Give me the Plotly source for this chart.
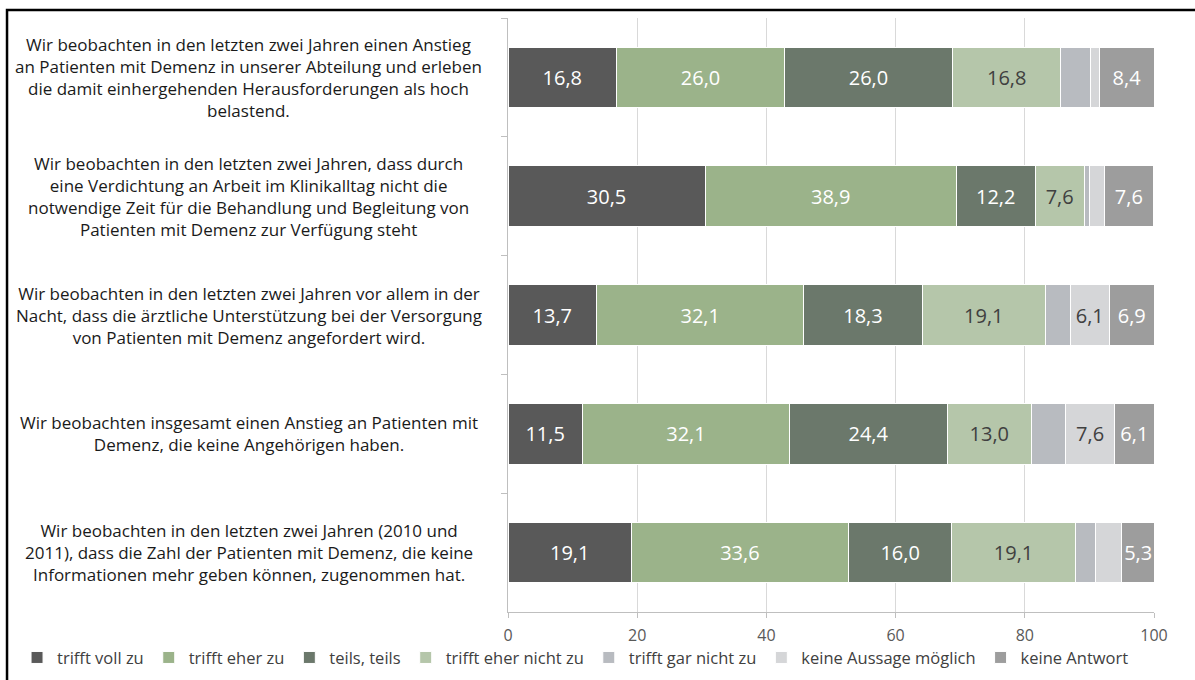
import plotly.graph_objects as go

# Aussagen (categories), top to bottom
statements = [
    "Wir beobachten in den letzten zwei Jahren einen Anstieg<br>an Patienten mit Demenz in unserer Abteilung und erleben<br>die damit einhergehenden Herausforderungen als hoch<br>belastend.",
    "Wir beobachten in den letzten zwei Jahren, dass durch<br>eine Verdichtung an Arbeit im Klinikalltag nicht die<br>notwendige Zeit für die Behandlung und Begleitung von<br>Patienten mit Demenz zur Verfügung steht",
    "Wir beobachten in den letzten zwei Jahren vor allem in der<br>Nacht, dass die ärztliche Unterstützung bei der Versorgung<br>von Patienten mit Demenz angefordert wird.",
    "Wir beobachten insgesamt einen Anstieg an Patienten mit<br>Demenz, die keine Angehörigen haben.",
    "Wir beobachten in den letzten zwei Jahren (2010 und<br>2011), dass die Zahl der Patienten mit Demenz, die keine<br>Informationen mehr geben können, zugenommen hat.",
]
cat_ids = ["A1", "A2", "A3", "A4", "A5"]

voll_zu = [16.8, 30.5, 13.7, 11.5, 19.1]
eher_zu = [26.0, 38.9, 32.1, 32.1, 33.6]
teils = [26.0, 12.2, 18.3, 24.4, 16.0]
eher_nicht = [16.8, 7.6, 19.1, 13.0, 19.1]
gar_nicht = [4.6, 0.8, 3.8, 5.3, 3.1]
keine_aussage = [1.4, 2.3, 6.1, 7.6, 4.0]
keine_antwort = [8.4, 7.6, 6.9, 6.1, 5.3]

series = [
    ("trifft voll zu", voll_zu, "#595959", "white", [True] * 5),
    ("trifft eher zu", eher_zu, "#9BB38A", "white", [True] * 5),
    ("teils, teils", teils, "#6B786B", "white", [True] * 5),
    ("trifft eher nicht zu", eher_nicht, "#B5C6AA", "#404040", [True] * 5),
    ("trifft gar nicht zu", gar_nicht, "#B8BBC0", "#404040", [False] * 5),
    ("keine Aussage möglich", keine_aussage, "#D5D6D8", "#404040", [False, False, True, True, False]),
    ("keine Antwort", keine_antwort, "#9D9D9D", "white", [True] * 5),
]

fig = go.Figure()
for name, vals, color, tcolor, show in series:
    labels = [f"{v:.1f}".replace(".", ",") if s else "" for v, s in zip(vals, show)]
    fig.add_trace(go.Bar(
        y=cat_ids, x=vals, name=name, orientation="h",
        marker=dict(color=color, line=dict(color="white", width=1)),
        text=labels, textposition="inside", insidetextanchor="middle",
        textangle=0, constraintext="none",
        textfont=dict(color=tcolor, size=20, family="Open Sans"),
        hoverinfo="x+name",
    ))

# category labels, centred text to the left of the plot
for cid, txt in zip(cat_ids, statements):
    fig.add_annotation(
        x=-0.401, y=cid, xref="paper", yref="y", text=txt, showarrow=False,
        xanchor="center", yanchor="middle", align="center",
        font=dict(family="Open Sans", size=17, color="#1a1a1a"),
    )

# outer frame (only left and top edges fall inside the picture)
fig.add_shape(type="rect", xref="paper", yref="paper",
              x0=-0.7755, x1=1.09, y0=-0.15, y1=1.0135,
              line=dict(color="black", width=2.5))

fig.update_layout(
    barmode="stack", bargap=0.49,
    width=1195, height=680,
    margin=dict(l=508, r=41, t=18, b=68, autoexpand=False),
    paper_bgcolor="white", plot_bgcolor="white",
    separators=",.",
    font=dict(family="Open Sans", color="#595959"),
    legend=dict(orientation="h", x=-0.76, y=-0.077, xanchor="left", yanchor="middle",
                bgcolor="rgba(0,0,0,0)",
                font=dict(size=16.5, color="#404040"), traceorder="normal",
                itemwidth=30, tracegroupgap=0),
    xaxis=dict(range=[0, 100], dtick=20, showgrid=True, gridcolor="#D9D9D9",
               zeroline=False, showline=True, linecolor="#BFBFBF",
               ticks="outside", ticklen=5, tickcolor="#BFBFBF",
               ticklabelstandoff=4, automargin=False,
               tickfont=dict(size=16, color="#595959")),
    yaxis=dict(categoryorder="array", categoryarray=cat_ids, autorange="reversed",
               showticklabels=False, showline=True, linecolor="#BFBFBF",
               ticks="outside", tickson="boundaries", ticklen=6, tickcolor="#BFBFBF",
               showgrid=False, automargin=False),
)

fig.write_html("out.html", config={"displayModeBar": False},
               post_script="document.body.style.margin='0px';document.body.style.overflow='hidden';")
